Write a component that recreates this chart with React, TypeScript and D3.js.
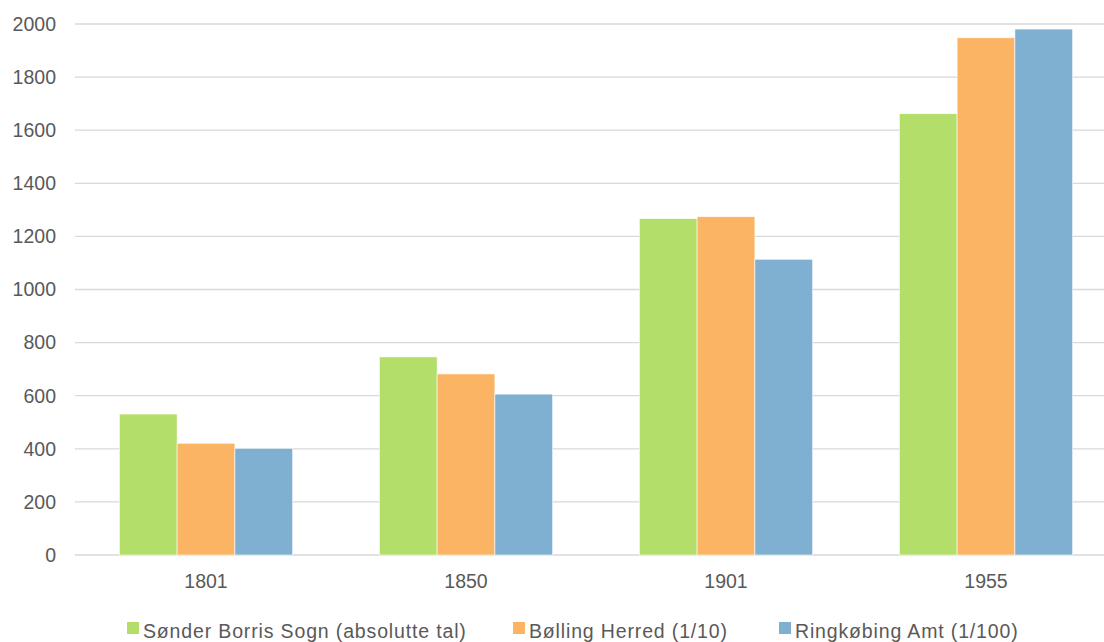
import React from "react";
import * as d3 from "d3";

const categories = ["1801", "1850", "1901", "1955"];
const seriesNames = ["Sønder Borris Sogn (absolutte tal)", "Bølling Herred (1/10)", "Ringkøbing Amt (1/100)"];
const sonderBorris = [531, 746, 1267, 1662];
const bolling = [421, 682, 1274, 1948];
const ringkobing = [402, 606, 1114, 1981];
const yTicks = [0, 200, 400, 600, 800, 1000, 1200, 1400, 1600, 1800, 2000];
const colors = ["#b3de69", "#fbb364", "#7fafd1"];

const W = 1104, H = 642;
const left = 76, right = 1116, top = 24, bottom = 555;
const font = "'Liberation Sans', Arial, sans-serif";
const textColor = "#595959";
const fs = 19.5;

export default function App() {
  const series = [sonderBorris, bolling, ringkobing];
  const x = d3.scaleBand<string>().domain(categories).range([left, right]).paddingInner(0.333).paddingOuter(0.1665);
  const x1 = d3.scaleBand<number>().domain([0, 1, 2]).range([0, x.bandwidth()]);
  const y = d3.scaleLinear().domain([0, 2000]).range([bottom, top]);
  const legendX = [127, 513, 779];
  return (
    <svg width={W} height={H} style={{ position: "absolute", left: 0, top: 0, background: "#fff" }}>
      {yTicks.map((t) => (
        <g key={t}>
          <line x1={left - 1} x2={W} y1={y(t)} y2={y(t)} stroke="#d9d9d9" strokeWidth={1.3} />
          <text x={56} y={y(t)} dy="0.35em" textAnchor="end" fontFamily={font} fontSize={fs} fill={textColor}>{t}</text>
        </g>
      ))}
      {categories.map((c, i) => (
        <g key={c}>
          {series.map((s, j) => (
            <rect key={j} x={(x(c) as number) + (x1(j) as number)} y={y(s[i])} width={x1.bandwidth()} height={bottom - y(s[i])} fill={colors[j]} stroke="#fff" strokeWidth={0.6} />
          ))}
          <text x={(x(c) as number) + x.bandwidth() / 2} y={588} textAnchor="middle" fontFamily={font} fontSize={fs} fill={textColor}>{c}</text>
        </g>
      ))}
      {seriesNames.map((n, j) => (
        <g key={n}>
          <rect x={legendX[j]} y={622} width={12} height={12} fill={colors[j]} />
          <text x={legendX[j] + 16} y={638} fontFamily={font} fontSize={fs} letterSpacing={0.85} fill={textColor}>{n}</text>
        </g>
      ))}
    </svg>
  );
}
